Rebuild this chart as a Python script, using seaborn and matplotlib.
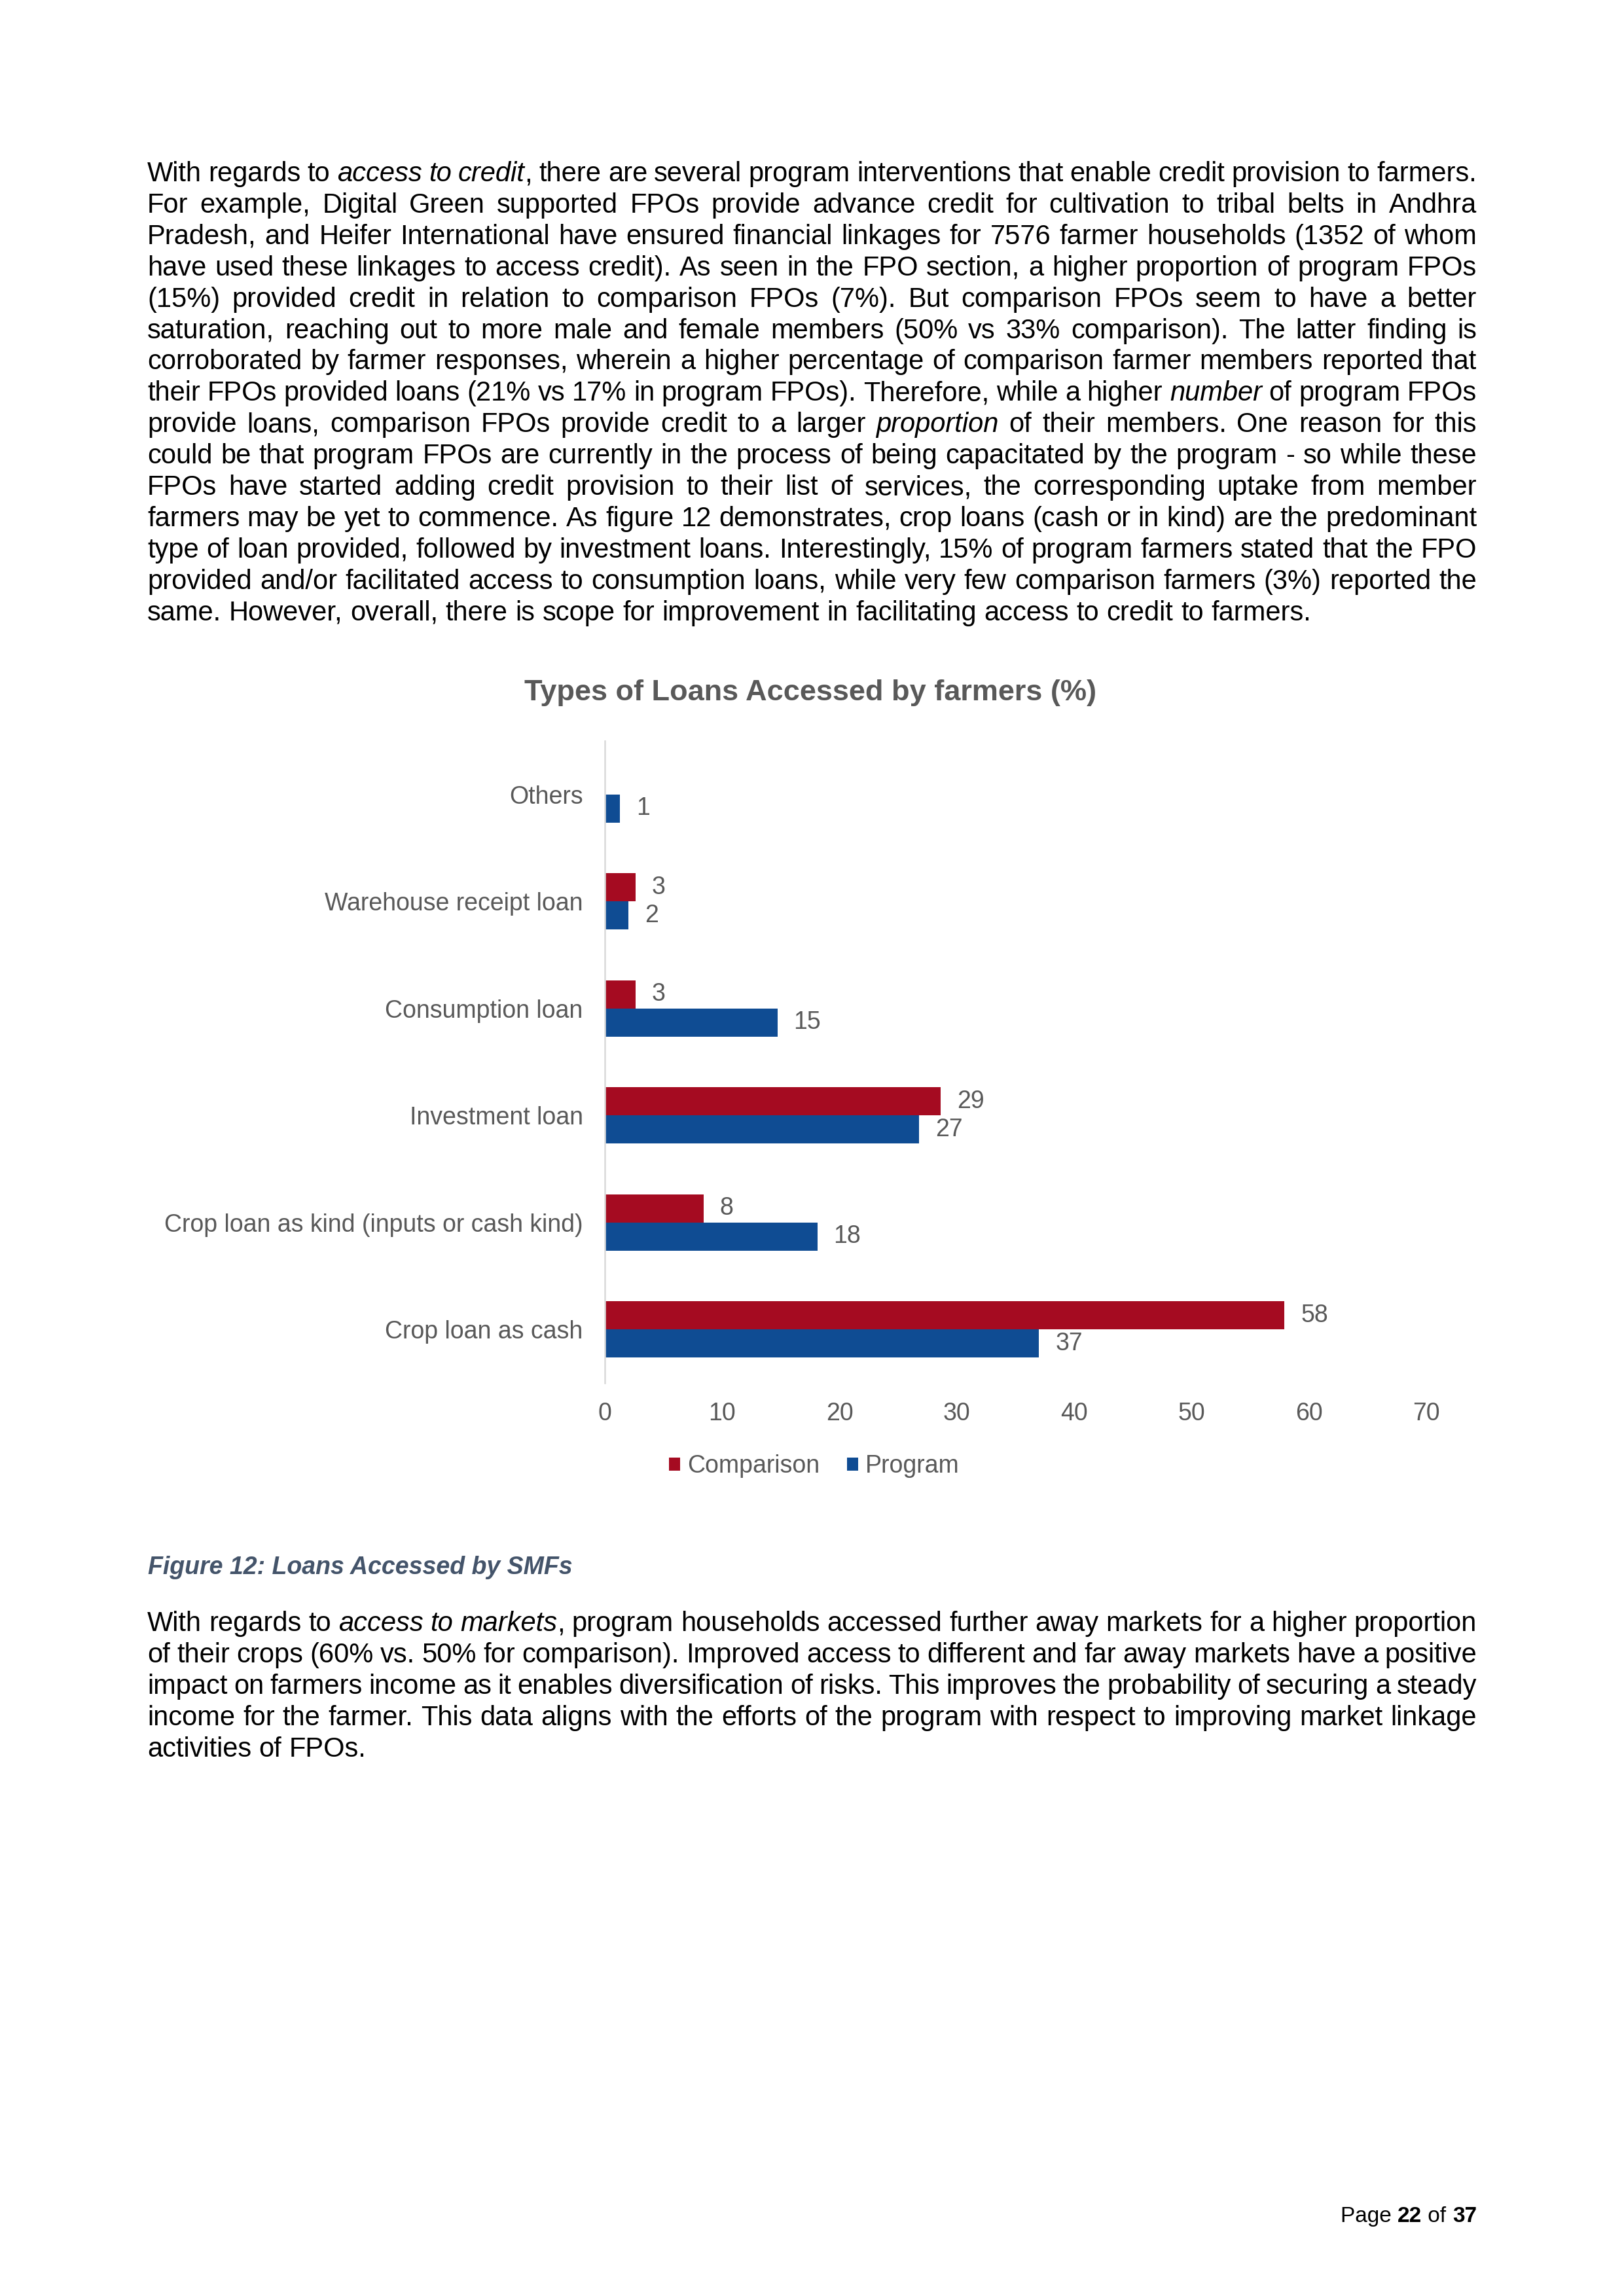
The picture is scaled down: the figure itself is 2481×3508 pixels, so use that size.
import matplotlib
matplotlib.use("Agg")
import matplotlib.pyplot as plt
from matplotlib.patches import Patch
import pandas as pd
import seaborn as sns

# chart data (percent of farmers)
categories = ["Others", "Warehouse receipt loan", "Consumption loan", "Investment loan",
              "Crop loan as kind (inputs or cash kind)", "Crop loan as cash"]
comparison = [None, 2.6, 2.6, 28.6, 8.4, 57.9]
program = [1.3, 2.0, 14.7, 26.8, 18.1, 37.0]
groups = ["Comparison", "Program"]
x_ticks = [0, 10, 20, 30, 40, 50, 60, 70]

title = "Types of Loans Accessed by farmers (%)"
caption = "Figure 12: Loans Accessed by SMFs"

para_1 = [
    "With regards to *access to credit*, there are several program interventions that enable credit provision to farmers.",
    "For example, Digital Green supported FPOs provide advance credit for cultivation to tribal belts in Andhra",
    "Pradesh, and Heifer International have ensured financial linkages for 7576 farmer households (1352 of whom",
    "have used these linkages to access credit). As seen in the FPO section, a higher proportion of program FPOs",
    "(15%) provided credit in relation to comparison FPOs (7%). But comparison FPOs seem to have a better",
    "saturation, reaching out to more male and female members (50% vs 33% comparison). The latter finding is",
    "corroborated by farmer responses, wherein a higher percentage of comparison farmer members reported that",
    "their FPOs provided loans (21% vs 17% in program FPOs). Therefore, while a higher *number* of program FPOs",
    "provide loans, comparison FPOs provide credit to a larger *proportion* of their members. One reason for this",
    "could be that program FPOs are currently in the process of being capacitated by the program - so while these",
    "FPOs have started adding credit provision to their list of services, the corresponding uptake from member",
    "farmers may be yet to commence. As figure 12 demonstrates, crop loans (cash or in kind) are the predominant",
    "type of loan provided, followed by investment loans. Interestingly, 15% of program farmers stated that the FPO",
    "provided and/or facilitated access to consumption loans, while very few comparison farmers (3%) reported the",
    "same. However, overall, there is scope for improvement in facilitating access to credit to farmers.",
]
para_2 = [
    "With regards to *access to markets*, program households accessed further away markets for a higher proportion",
    "of their crops (60% vs. 50% for comparison). Improved access to different and far away markets have a positive",
    "impact on farmers income as it enables diversification of risks. This improves the probability of securing a steady",
    "income for the farmer. This data aligns with the efforts of the program with respect to improving market linkage",
    "activities of FPOs.",
]

RED = "#A50B21"
BLUE = "#0F4C93"
GREY = "#595959"

sns.set_theme(style="white")
plt.rcParams["font.family"] = ["Liberation Sans", "DejaVu Sans"]

W, H = 2481, 3508
fig = plt.figure(figsize=(W / 300, H / 300 + 0.0001), dpi=300)
renderer = fig.canvas.get_renderer()


def fx(x):
    return x / W


def fy(y):
    return 1 - y / H


def text_width(s, size, style="normal", weight="normal"):
    t = fig.text(0, 0, s, fontsize=size, style=style, weight=weight)
    w = t.get_window_extent(renderer).width
    t.remove()
    return w


def parse(line):
    words, cur, buf, italic = [], [], "", False
    for ch in line:
        if ch == "*":
            if buf:
                cur.append((buf, italic))
                buf = ""
            italic = not italic
        elif ch == " ":
            if buf:
                cur.append((buf, italic))
                buf = ""
            if cur:
                words.append(cur)
                cur = []
        else:
            buf += ch
    if buf:
        cur.append((buf, italic))
    if cur:
        words.append(cur)
    return words


def draw_line(line, x0, x1, y, size, justify):
    words = parse(line)
    while True:
        em = size * 300 / 72
        widths = [[text_width(s, size, "italic" if it else "normal") for s, it in w] for w in words]
        total = sum(sum(w) for w in widths)
        if justify and len(words) > 1:
            gap = (x1 - x0 - total) / (len(words) - 1)
        else:
            gap = 0.278 * em
        if gap >= 0.16 * em or size < 8.5:
            break
        size -= 0.1
    x = x0
    for w, ws in zip(words, widths):
        for (s, it), sw in zip(w, ws):
            fig.text(fx(x), fy(y), s, fontsize=size, style="italic" if it else "normal",
                     ha="left", va="baseline", color="black")
            x += sw
        x += gap


def draw_paragraph(lines, y0, dy=47.9, x0=225, x1=2256, size=10):
    for i, line in enumerate(lines):
        draw_line(line, x0, x1, y0 + i * dy, size, justify=i < len(lines) - 1)


draw_paragraph(para_1, 277)
draw_paragraph(para_2, 2492)

fig.text(fx(226), fy(2405), caption, fontsize=9, style="italic", weight="bold",
         color="#44546A", ha="left", va="baseline")

# page footer
parts = [("Page ", "normal"), ("22", "bold"), (" of ", "normal"), ("37", "bold")]
widths = [text_width(s.replace(" ", "\u00a0"), 8, weight=wt) for s, wt in parts]
x = 2256 - sum(widths)
for (s, wt), w in zip(parts, widths):
    fig.text(fx(x), fy(3395), s.replace(" ", "\u00a0"), fontsize=8, weight=wt,
             ha="left", va="baseline", color="black")
    x += w

# chart
rows = []
for cat, c, p in zip(categories, comparison, program):
    if c is not None:
        rows.append({"category": cat, "group": "Comparison", "value": c})
    if p is not None:
        rows.append({"category": cat, "group": "Program", "value": p})
df = pd.DataFrame(rows)

ax = fig.add_axes([fx(924), fy(2113), 1255 / W, 981 / H])
sns.barplot(data=df, y="category", x="value", hue="group", order=categories,
            hue_order=groups, palette=[RED, BLUE], orient="h", width=0.526,
            saturation=1, errorbar=None, linewidth=0, legend=False, ax=ax)

for cont in ax.containers:
    ax.bar_label(cont, fmt="%.0f", padding=6, fontsize=9, color=GREY)

ax.set_xlim(0, 70)
ax.set_xticks(x_ticks)
ax.set_xticklabels([str(v) for v in x_ticks])
ax.set_xlabel("")
ax.set_ylabel("")
ax.tick_params(axis="x", length=0, pad=7, labelsize=9, labelcolor=GREY)
ax.tick_params(axis="y", length=0, pad=8, labelsize=9, labelcolor=GREY)
for side in ["top", "right", "bottom"]:
    ax.spines[side].set_visible(False)
ax.spines["left"].set_color("#D9D9D9")
ax.spines["left"].set_linewidth(0.6)
ax.grid(False)

fig.text(fx(1238), fy(1070), title, fontsize=10.85, weight="bold", color=GREY,
         ha="center", va="baseline")

handles = [Patch(facecolor=RED, edgecolor="none"), Patch(facecolor=BLUE, edgecolor="none")]
fig.legend(handles, groups, loc="center", bbox_to_anchor=(fx(1244), fy(2240)),
           ncol=2, frameon=False, fontsize=9, labelcolor=GREY,
           handlelength=0.45, handleheight=0.45, handletextpad=0.3,
           columnspacing=1.1, borderpad=0, borderaxespad=0)

fig.savefig("out.png", dpi=300, facecolor="white")
